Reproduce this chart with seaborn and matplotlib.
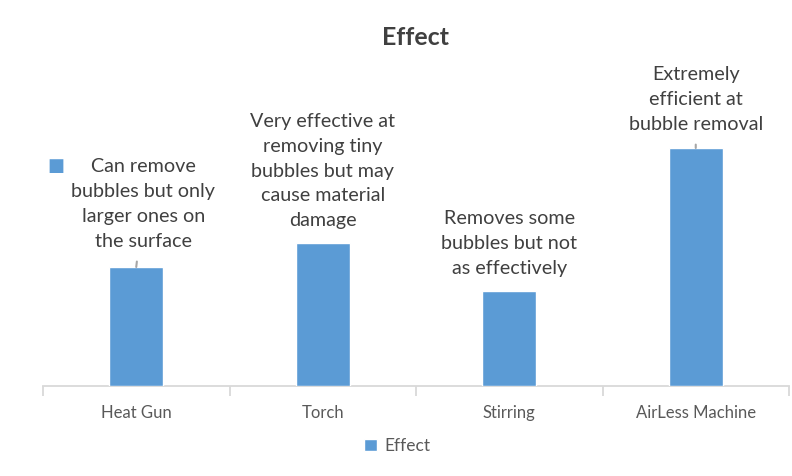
import matplotlib
matplotlib.use("Agg")
import matplotlib.pyplot as plt
import seaborn as sns
import numpy as np

categories = ["Heat Gun", "Torch", "Stirring", "AirLess Machine"]
values = [5, 6, 4, 10]
labels = [
    "Can remove\nbubbles but only\nlarger ones on\nthe surface",
    "Very effective at\nremoving tiny\nbubbles but may\ncause material\ndamage",
    "Removes some\nbubbles but not\nas effectively",
    "Extremely\nefficient at\nbubble removal",
]
series_name = "Effect"

BAR = "#5B9BD5"
TXT = "#404040"
AX = "#D9D9D9"

sns.set_theme(style="white")
plt.rcParams["font.family"] = ["Lato", "DejaVu Sans"]

fig = plt.figure(figsize=(7.92, 4.76), dpi=100)
ax = fig.add_axes([43 / 792, 1 - 386 / 476, 746 / 792, 285.6 / 476])

sns.barplot(x=categories, y=values, color=BAR, width=0.29, saturation=1,
            label=series_name, ax=ax, zorder=3)

ax.set_xlim(-0.5, 3.5)
ax.set_ylim(0, 12)
ax.set_yticks([])
ax.set_xlabel("")
ax.set_ylabel("")
for s in ["top", "right", "left"]:
    ax.spines[s].set_visible(False)
ax.spines["bottom"].set_color(AX)
ax.spines["bottom"].set_linewidth(1.3)
ax.set_xticks(np.arange(-0.5, len(categories)), minor=True)
ax.tick_params(axis="x", which="minor", length=7, color=AX, width=1.3, direction="out")
ax.tick_params(axis="x", which="major", length=0, pad=14, labelsize=12, labelcolor="#595959")
ax.tick_params(axis="x", which="minor", bottom=True)

# data labels
offsets = [(7, 17), (0, 14), (0, 14), (0, 15)]
leaders = [True, False, False, True]
for i, (v, lab) in enumerate(zip(values, labels)):
    kw = {}
    if leaders[i]:
        kw["arrowprops"] = dict(arrowstyle="-", color="#A6A6A6", lw=1.5,
                                shrinkA=6, shrinkB=0)
    ax.annotate(lab, xy=(i, v), xytext=offsets[i], textcoords="offset pixels",
                ha="center", va="bottom", fontsize=14.2, color=TXT,
                linespacing=1.56, annotation_clip=False, **kw)
    if i == 0:
        ax.annotate("\u25A0", xy=(i, v), xytext=(-80, 101), textcoords="offset pixels",
                    ha="center", va="center", fontsize=13, color=BAR,
                    family="DejaVu Sans", annotation_clip=False)

ax.set_title("Effect", fontsize=18, fontweight="bold", color=TXT, pad=0, y=1.195)

leg = ax.legend(loc="upper center", bbox_to_anchor=(0.4745, -0.128), frameon=False,
                fontsize=12.5, handlelength=0.75, handleheight=0.75, handletextpad=0.4)
for t in leg.get_texts():
    t.set_color("#595959")

fig.savefig("out.png", dpi=100)
